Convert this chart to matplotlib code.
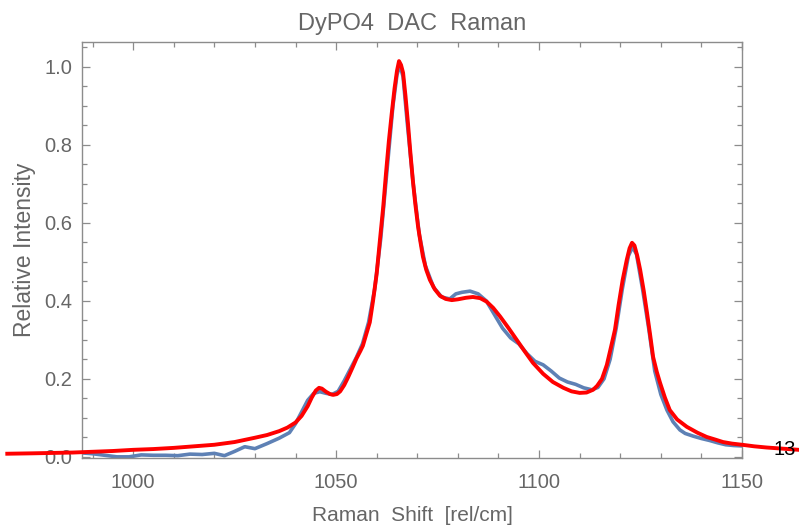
import numpy as np
import matplotlib.pyplot as plt
from matplotlib.ticker import MultipleLocator

# measured spectrum
shift = [987.5, 990, 993, 996, 999, 1002, 1005, 1008, 1011, 1014, 1017, 1020,
         1022.5, 1025, 1027.5, 1030, 1033, 1036, 1038.5, 1040, 1041.5, 1043,
         1044.5, 1046, 1047.5, 1049, 1050.5, 1052, 1053.5, 1055, 1056.5, 1058,
         1059.5, 1061, 1062.5, 1064, 1065, 1065.7, 1066.5, 1067.5, 1069, 1070.5,
         1072, 1074, 1076, 1078, 1079.5, 1081, 1083, 1085, 1087, 1089, 1091,
         1093, 1095, 1097, 1099, 1101, 1103, 1105, 1107, 1109, 1111, 1113,
         1114.5, 1116, 1117.5, 1119, 1120.5, 1122, 1123, 1124, 1125.5, 1127,
         1128.5, 1130, 1131.5, 1133, 1134.7, 1136, 1138, 1140, 1142, 1144,
         1146, 1148, 1150]
intensity = [0.010, 0.008, 0.004, 0.000, 0.000, 0.005, 0.004, 0.004, 0.003,
             0.007, 0.006, 0.009, 0.003, 0.014, 0.026, 0.021, 0.034, 0.048,
             0.062, 0.085, 0.115, 0.145, 0.163, 0.167, 0.163, 0.160, 0.168,
             0.195, 0.225, 0.255, 0.290, 0.345, 0.43, 0.56, 0.73, 0.90, 0.98,
             1.005, 0.975, 0.86, 0.70, 0.57, 0.49, 0.435, 0.41, 0.405, 0.418,
             0.422, 0.425, 0.418, 0.40, 0.365, 0.33, 0.305, 0.29, 0.265, 0.245,
             0.236, 0.22, 0.202, 0.192, 0.186, 0.177, 0.172, 0.178, 0.20, 0.25,
             0.33, 0.43, 0.515, 0.538, 0.52, 0.43, 0.33, 0.22, 0.16, 0.12,
             0.09, 0.069, 0.06, 0.053, 0.047, 0.042, 0.036, 0.031, 0.029, 0.028]

# fitted curve
fit_x = [969, 975, 980, 985, 990, 995, 1000, 1005, 1010, 1015, 1020, 1025,
         1030, 1033, 1036, 1038, 1040, 1041.5, 1043, 1044, 1045, 1045.8,
         1046.5, 1047.5, 1048.5, 1049.3, 1050.2, 1051, 1052, 1053, 1054, 1055,
         1056, 1056.6, 1057.3, 1058.3, 1059.1, 1060, 1060.8, 1061.6, 1062.3,
         1063, 1063.7, 1064.4, 1065, 1065.5, 1066, 1066.5, 1067.1, 1067.7,
         1068.3, 1068.9, 1069.5, 1070.2, 1070.8, 1071.4, 1072.2, 1073.1,
         1074.3, 1075.6, 1077, 1078.5, 1080, 1082, 1083.7, 1085.5, 1087.1,
         1088.7, 1090.4, 1092.5, 1094.5, 1096.5, 1098.5, 1101, 1103.4, 1106,
         1108, 1110, 1111.7, 1113.3, 1114.3, 1115.5, 1116.7, 1117.8, 1118.7,
         1119.6, 1120.6, 1121.6, 1122.3, 1122.9, 1123.5, 1124.2, 1124.9,
         1125.8, 1126.6, 1127.4, 1128.1, 1129, 1129.8, 1131, 1132.2, 1134,
         1136.4, 1139, 1141.3, 1143.5, 1145.3, 1147.5, 1150, 1153, 1156,
         1160, 1164]
fit_y = [0.008, 0.009, 0.010, 0.011, 0.013, 0.015, 0.018, 0.020, 0.023, 0.027,
         0.031, 0.038, 0.049, 0.056, 0.066, 0.075, 0.088, 0.105, 0.13, 0.152,
         0.170, 0.177, 0.175, 0.167, 0.161, 0.159, 0.161, 0.168, 0.184, 0.205,
         0.228, 0.252, 0.272, 0.285, 0.31, 0.345, 0.40, 0.47, 0.556, 0.64,
         0.728, 0.81, 0.88, 0.945, 0.99, 1.015, 1.005, 0.985, 0.925, 0.856,
         0.78, 0.71, 0.65, 0.59, 0.55, 0.513, 0.48, 0.454, 0.43, 0.413, 0.405,
         0.402, 0.404, 0.408, 0.41, 0.407, 0.398, 0.382, 0.36, 0.33, 0.30,
         0.27, 0.241, 0.213, 0.192, 0.177, 0.168, 0.164, 0.165, 0.172, 0.182,
         0.20, 0.236, 0.285, 0.326, 0.39, 0.454, 0.505, 0.535, 0.549, 0.542,
         0.515, 0.48, 0.425, 0.369, 0.31, 0.256, 0.218, 0.19, 0.152, 0.12,
         0.096, 0.077, 0.062, 0.051, 0.044, 0.038, 0.034, 0.031, 0.027, 0.024,
         0.021, 0.018]

plt.rcParams['font.family'] = ['Liberation Sans', 'DejaVu Sans']
gray = '#666666'
framec = '#8c8c8c'

fig = plt.figure(figsize=(7.99, 5.27), dpi=100)
ax = fig.add_axes([0.1026, 0.1309, 0.8261, 0.7894])

ax.plot(shift, intensity, color='#5E81B5', lw=2.6, solid_joinstyle='round', zorder=2)
ax.plot(fit_x, fit_y, color='#FF0000', lw=2.8, solid_joinstyle='round',
        clip_on=False, zorder=3)
ax.text(1160.6, 0.02, '13', fontsize=14.5, color='black', ha='center', va='center',
        clip_on=False, zorder=4)

ax.set_xlim(987.4, 1150)
ax.set_ylim(-0.003, 1.064)
ax.xaxis.set_major_locator(MultipleLocator(50))
ax.xaxis.set_minor_locator(MultipleLocator(10))
ax.yaxis.set_major_locator(MultipleLocator(0.2))
ax.yaxis.set_minor_locator(MultipleLocator(0.05))
ax.yaxis.set_major_formatter(plt.FuncFormatter(lambda v, p: '%.1f' % v))

for s in ax.spines.values():
    s.set_color(framec)
    s.set_linewidth(1.0)
ax.tick_params(which='both', direction='in', top=True, right=True, color=framec,
               labelcolor=gray, labelsize=14.5, width=0.9)
ax.tick_params(which='major', length=6)
ax.tick_params(which='minor', length=3.5)
ax.tick_params(axis='x', which='major', pad=11)
ax.tick_params(axis='y', which='major', pad=7)

ax.set_title('DyPO4  DAC  Raman', fontsize=17, color=gray, pad=9)
ax.set_xlabel('Raman  Shift  [rel/cm]', fontsize=15, color=gray, labelpad=10)
ax.set_ylabel('Relative Intensity', fontsize=16.5, color=gray, labelpad=6)

fig.savefig('out.png', dpi=100)
